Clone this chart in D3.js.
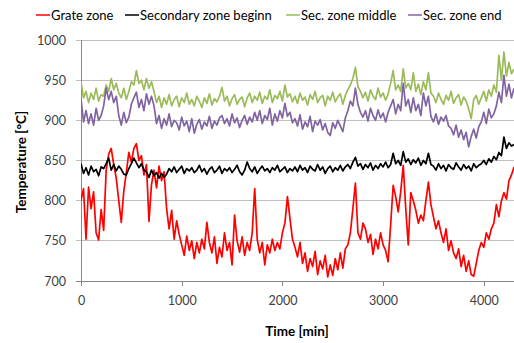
<!DOCTYPE html>
<html>
<head>
<meta charset="utf-8">
<script src="https://cdn.jsdelivr.net/npm/d3@7"></script>
<style>
body{margin:0;background:#fff;}
svg{display:block;font-family:Lato,"Open Sans",sans-serif;}
</style>
</head>
<body>
<svg id="chart" width="514" height="343"></svg>
<script>
// sampling interval of the read-off values [min]
const step = 25;

const seriesNames = ["Grate zone", "Secondary zone beginn", "Sec. zone middle", "Sec. zone end"];
const seriesColors = ["#ff0000", "#000000", "#9bbb59", "#8064a2"];

const xTicks = [0, 1000, 2000, 3000, 4000];
const yTicks = [700, 750, 800, 850, 900, 950, 1000];

/**** values, one every 25 min ****/
const grate = [
  800, 815, 752, 817, 790, 811, 760, 751, 789, 763,
  838, 858, 865, 845, 828, 800, 773, 812, 835, 860,
  848, 865, 871, 850, 856, 832, 845, 774, 820, 838,
  816, 843, 825, 836, 790, 765, 788, 752, 775, 758,
  745, 732, 756, 738, 750, 728, 748, 735, 752, 740,
  773, 748, 735, 755, 722, 742, 730, 760, 738, 748,
  720, 782, 750, 736, 755, 732, 748, 738, 760, 815,
  752, 735, 748, 720, 745, 735, 752, 738, 748, 740,
  760, 772, 805, 778, 752, 742, 730, 748, 722, 735,
  712, 728, 718, 737, 708, 725, 715, 732, 705, 720,
  707, 728, 714, 735, 716, 740, 745, 760, 790, 822,
  760, 752, 772, 765, 748, 758, 733, 752, 740, 760,
  745, 738, 724, 770, 819, 805, 786, 811, 844, 790,
  745, 810, 800, 788, 772, 782, 775, 800, 823, 795,
  780, 765, 775, 760, 748, 765, 738, 750, 735, 728,
  740, 718, 732, 712, 725, 708, 706, 722, 738, 748,
  742, 760, 752, 765, 772, 795, 780, 800, 810, 802,
  825, 832, 842
];

const secBegin = [
  846, 834, 841, 832, 843, 836, 839, 831, 842, 840,
  846, 853, 838, 845, 837, 843, 839, 833, 832, 840,
  846, 853, 847, 841, 846, 838, 836, 829, 838, 831,
  835, 828, 834, 829, 833, 840, 836, 842, 835, 839,
  843, 834, 840, 837, 841, 835, 838, 844, 836, 840,
  833, 839, 842, 835, 838, 843, 834, 840, 837, 841,
  835, 839, 844, 836, 832, 838, 848, 840, 836, 842,
  834, 839, 843, 837, 840, 835, 841, 838, 844, 836,
  839, 842, 835, 840, 837, 842, 836, 844, 838, 841,
  835, 843, 839, 837, 845, 838, 842, 834, 840, 843,
  836, 841, 838, 844, 837, 842, 845, 840, 848, 854,
  843, 846, 839, 845, 841, 847, 838, 844, 840, 846,
  842, 848, 841, 845, 859, 846, 850, 844, 861, 848,
  852, 845, 851, 847, 853, 844, 850, 846, 859, 845,
  843, 838, 846, 840, 844, 837, 845, 841, 839, 847,
  842, 838, 845, 840, 843, 837, 846, 841, 844, 846,
  850, 845, 852, 848, 855, 851, 860, 856, 879, 865,
  872, 868, 870
];

const secMiddle = [
  948, 928, 936, 922, 934, 926, 940, 924, 932, 930,
  944, 936, 952, 938, 946, 934, 928, 940, 926, 936,
  948, 944, 962, 946, 950, 938, 952, 940, 948, 936,
  922, 930, 916, 928, 920, 932, 918, 926, 930, 917,
  928, 922, 934, 920, 926, 918, 930, 924, 916, 928,
  921, 933, 919, 927, 923, 930, 941, 924, 930, 918,
  927, 932, 920, 926, 929, 917, 928, 934, 922, 930,
  925, 935, 921, 930, 926, 938, 922, 931, 927, 936,
  924, 944, 929, 933, 923, 930, 921, 934, 925, 929,
  919, 932, 926, 936, 922, 928, 931, 918, 930, 925,
  935, 923, 929, 933, 920, 931, 938, 944, 952, 966,
  942, 936, 928, 935, 924, 938, 930, 926, 940, 929,
  934, 925, 933, 946, 962, 938, 944, 936, 964, 940,
  946, 938, 959, 936, 945, 932, 948, 938, 959, 934,
  930, 922, 934, 926, 920, 931, 925, 936, 921, 928,
  932, 919, 929, 924, 914, 902, 926, 931, 920, 928,
  936, 924, 938, 930, 944, 935, 981, 950, 985, 955,
  972, 958, 964
];

const secEnd = [
  927, 898, 912, 896, 908, 894, 915, 900, 906, 918,
  940, 926, 936, 922, 930, 906, 894, 910, 897, 904,
  920, 928, 935, 916, 926, 912, 933, 920, 930, 918,
  896, 906, 890, 902, 894, 908, 892, 900, 897, 888,
  904, 893, 899, 886, 902, 884, 895, 901, 889, 898,
  893, 905, 890, 899, 894, 903, 906, 896, 902, 893,
  908, 897, 903, 891, 900, 906, 895, 904, 898, 910,
  900, 912, 896, 906, 901, 915, 894, 908, 899, 912,
  903, 921, 905, 910, 897, 902, 893, 907, 889, 898,
  892, 905, 886, 899, 894, 901, 888, 896, 885, 881,
  897, 890, 900, 893, 886, 903, 912, 924, 918, 940,
  920, 910, 904, 912, 899, 915, 906, 900, 913, 903,
  909, 898, 910, 918, 926, 908, 920, 912, 946, 918,
  926, 910, 928, 912, 920, 906, 934, 918, 930, 905,
  898, 908, 895, 904, 899, 906, 893, 890, 882, 894,
  879, 888, 876, 885, 867, 880, 889, 878, 892, 898,
  910, 896, 914, 903, 908, 918, 935, 922, 956, 930,
  945, 928, 940
];

const allSeries = [grate, secBegin, secMiddle, secEnd];

const svg = d3.select("#chart");
const plotLeft = 81, plotRight = 514, plotTop = 40, plotBottom = 281;

const x = d3.scaleLinear().domain([0, 4300]).range([plotLeft, plotRight]);
const y = d3.scaleLinear().domain([700, 1000]).range([plotBottom, plotTop]);

// gridlines
svg.append("g")
  .selectAll("line")
  .data(yTicks)
  .enter().append("line")
  .attr("x1", plotLeft - 5).attr("x2", plotRight)
  .attr("y1", d => y(d)).attr("y2", d => y(d))
  .attr("stroke", d => d === 700 ? "#868686" : "#bfbfbf")
  .attr("stroke-width", 1)
  .attr("shape-rendering", "crispEdges");

// y axis line
svg.append("line")
  .attr("x1", plotLeft).attr("x2", plotLeft).attr("y1", plotTop).attr("y2", plotBottom)
  .attr("stroke", "#868686").attr("shape-rendering", "crispEdges");

// x axis
const xAxis = svg.append("g")
  .attr("transform", "translate(0," + plotBottom + ")")
  .call(d3.axisBottom(x).tickValues(xTicks).tickFormat(d3.format("d"))
    .tickSize(5).tickPadding(10).tickSizeOuter(0));
xAxis.select(".domain").remove();
xAxis.selectAll(".tick line").attr("stroke", "#868686").attr("shape-rendering", "crispEdges");
xAxis.selectAll("text").attr("font-size", "12.5px").attr("fill", "#404040").attr("font-family", "Lato");

// y labels
const yAxis = svg.append("g")
  .attr("transform", "translate(" + plotLeft + ",0)")
  .call(d3.axisLeft(y).tickValues(yTicks).tickFormat(d3.format("d")).tickSize(0).tickPadding(15));
yAxis.select(".domain").remove();
yAxis.selectAll("text").attr("font-size", "12.5px").attr("fill", "#404040").attr("font-family", "Lato");

// lines
svg.append("clipPath").attr("id", "plotclip")
  .append("rect").attr("x", plotLeft).attr("y", plotTop - 20)
  .attr("width", plotRight - plotLeft).attr("height", plotBottom - plotTop + 20);

const line = d3.line()
  .x((d, i) => x(i * step))
  .y(d => y(d));

const lines = svg.append("g").attr("clip-path", "url(#plotclip)");
allSeries.forEach(function (s, k) {
  lines.append("path")
    .datum(s)
    .attr("d", line)
    .attr("fill", "none")
    .attr("stroke", seriesColors[k])
    .attr("stroke-width", 1.7)
    .attr("stroke-linejoin", "round");
});

// axis titles
svg.append("text")
  .attr("x", 297).attr("y", 336)
  .attr("text-anchor", "middle")
  .attr("font-weight", "bold").attr("font-size", "13.5px").attr("fill", "#000")
  .text("Time [min]");

svg.append("text")
  .attr("transform", "translate(26,162) rotate(-90)")
  .attr("text-anchor", "middle")
  .attr("font-weight", "bold").attr("font-size", "13.5px").attr("fill", "#000")
  .text("Temperature [°C]");

// legend
const legendX = [36, 125, 286, 408];
const legend = svg.append("g");
seriesNames.forEach(function (name, k) {
  legend.append("line")
    .attr("x1", legendX[k]).attr("x2", legendX[k] + 14)
    .attr("y1", 15).attr("y2", 15)
    .attr("stroke", seriesColors[k]).attr("stroke-width", 1.5);
  legend.append("text")
    .attr("x", legendX[k] + 15).attr("y", 19.5)
    .attr("font-size", "13px").attr("fill", "#000")
    .text(name);
});
</script>
</body>
</html>
